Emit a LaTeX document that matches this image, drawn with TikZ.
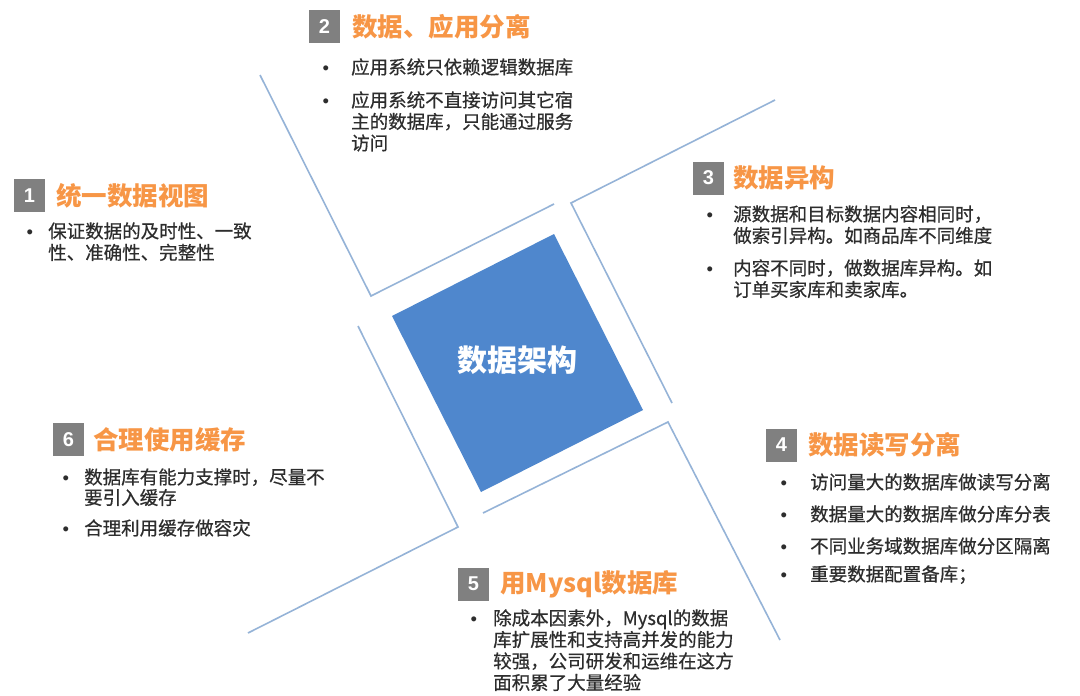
\documentclass[tikz,border=0pt]{standalone}
\usepackage{fontspec}
\setmainfont{Noto Sans CJK SC}
\newfontfamily\bodyfont[FakeBold=0.6]{Noto Sans CJK SC}
\newfontfamily\arialfont{Liberation Sans}
\usetikzlibrary{positioning}

\definecolor{numgray}{RGB}{128,128,128}
\definecolor{titleorange}{RGB}{247,150,70}
\definecolor{frameblue}{RGB}{149,179,215}
\definecolor{archblue}{RGB}{79,135,205}
\definecolor{bodygray}{RGB}{45,45,45}

% bullet hanging left of the first line
\newcommand{\dotgap}[1]{\llap{{\arialfont •}\hspace{#1}}}

\begin{document}
\begin{tikzpicture}
[
    x=1pt, y=-1pt,
    numbox/.style={fill=numgray, text=white, minimum width=31pt, minimum height=33pt, inner sep=0pt, font=\arialfont\bfseries\fontsize{20}{20}\selectfont},
    heading/.style={inner sep=0pt, text=titleorange, font=\bfseries\fontsize{25.5}{28}\selectfont},
    item/.style={inner sep=0pt, anchor=base west, align=left, text=bodygray, font=\bodyfont\fontsize{18.5}{21.5}\selectfont},
    frame/.style={draw=frameblue, line width=1.6pt},
]
\useasboundingbox (0,0) rectangle (1080,696);

% frames round the centre
\draw[frame] (260,75) -- (371,296) -- (554,204);
\draw[frame] (775,100) -- (571,203) -- (672,403);
\draw[frame] (483,513) -- (668,422) -- (780,640);
\draw[frame] (358,326) -- (458,527) -- (248,633);

% centre
\fill[archblue] (392,316) -- (554,234) -- (643,410) -- (481,492) -- cycle;
\node[text=white, font=\bfseries\fontsize{30}{30}\selectfont] (arch) at (517,360) {数据架构};

% 1  (items sit on the baseline of their last line)
\node[numbox] (n1) at (29.5,195.5) {1};
\node[heading, right=11pt of n1] (t1) {统一数据视图};
\node[item] (i1a) at (48,259.5) {\dotgap{15pt}保证数据的及时性、一致\\性、准确性、完整性};

% 2
\node[numbox] (n2) at (324.5,26.5) {2};
\node[heading, right=12pt of n2] (t2) {数据、应用分离};
\node[item] (i2a) at (351,74) {\dotgap{22pt}应用系统只依赖逻辑数据库};
\node[item] (i2b) at (351,150) {\dotgap{22pt}应用系统不直接访问其它宿\\主的数据库，只能通过服务\\访问};

% 3
\node[numbox] (n3) at (708.5,178) {3};
\node[heading, right=9pt of n3] (t3) {数据异构};
\node[item] (i3a) at (733,242.5) {\dotgap{20pt}源数据和目标数据内容相同时，\\做索引异构。如商品库不同维度};
\node[item] (i3b) at (733,296.5) {\dotgap{20pt}内容不同时，做数据库异构。如\\订单买家库和卖家库。};

% 4
\node[numbox] (n4) at (781.5,445) {4};
\node[heading, right=11pt of n4] (t4) {数据读写分离};
\node[item] (i4a) at (810,489) {\dotgap{23pt}访问量大的数据库做读写分离};
\node[item] (i4b) at (810,521) {\dotgap{23pt}数据量大的数据库做分库分表};
\node[item] (i4c) at (810,553) {\dotgap{23pt}不同业务域数据库做分区隔离};
\node[item] (i4d) at (810,581) {\dotgap{23pt}重要数据配置备库；};

% 5
\node[numbox] (n5) at (473.5,584) {5};
\node[heading, right=11pt of n5] (t5) {用Mysql数据库};
\node[item] (i5a) at (493,689.5) {\dotgap{16pt}除成本因素外，Mysql的数据\\库扩展性和支持高并发的能力\\较强，公司研发和运维在这方\\面积累了大量经验};

% 6
\node[numbox] (n6) at (68.5,439.5) {6};
\node[heading, right=9pt of n6] (t6) {合理使用缓存};
\node[item, font=\bodyfont\fontsize{18.5}{20.5}\selectfont] (i6a) at (84,504.5) {\dotgap{15pt}数据库有能力支撑时，尽量不\\要引入缓存};
\node[item] (i6b) at (84,535) {\dotgap{15pt}合理利用缓存做容灾};
\end{tikzpicture}
\end{document}
